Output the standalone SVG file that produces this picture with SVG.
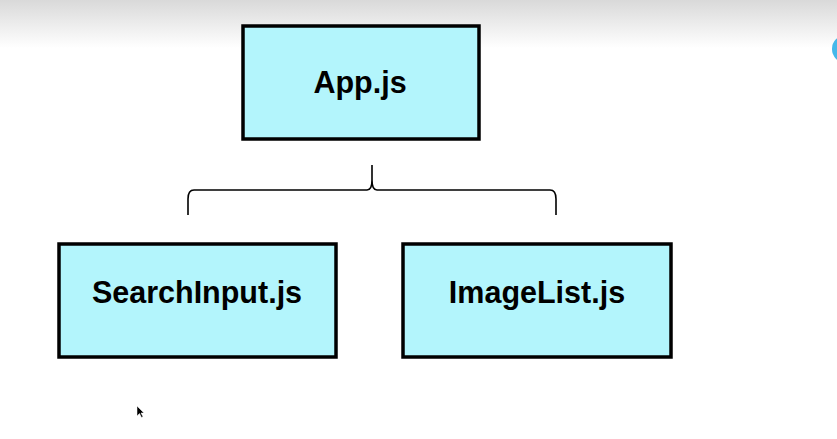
<svg xmlns="http://www.w3.org/2000/svg" width="837" height="439" viewBox="0 0 837 439">
<defs>
<linearGradient id="topShade" x1="0" y1="0" x2="0" y2="1">
<stop offset="0" stop-color="#d9d9d9"/>
<stop offset="1" stop-color="#ffffff"/>
</linearGradient>
<style>
.box{fill:#b3f5fc;stroke:#000;stroke-width:3.5}
.lbl{font-family:"Liberation Sans",Arial,sans-serif;font-weight:bold;font-size:30.5px;fill:#000;text-anchor:middle}
.brace{fill:none;stroke:#000;stroke-width:1.6}
</style>
</defs>
<rect x="0" y="0" width="837" height="439" fill="#ffffff"/>
<rect x="0" y="0" width="837" height="48" fill="url(#topShade)"/>
<circle cx="846" cy="49" r="14" fill="#45b8ea"/>
<g id="node-app">
<rect class="box" x="243" y="26" width="236" height="113"/>
<text class="lbl" x="360" y="93">App.js</text>
</g>
<g id="node-searchinput">
<rect class="box" x="59" y="244" width="277" height="113"/>
<text class="lbl" x="197" y="303">SearchInput.js</text>
</g>
<g id="node-imagelist">
<rect class="box" x="403" y="244" width="268" height="113"/>
<text class="lbl" x="537" y="303">ImageList.js</text>
</g>
<g id="connectors">
<path class="brace" d="M188,215 L188,199 Q188,190 194,190 L367,190 Q372,190 372,180 L372,165 M372,180 Q372,190 377,190 L550,190 Q556,190 556,199 L556,215"/>
</g>
<polygon points="137,406 137,416 139.5,413.5 141.5,417.5 143,416.8 141,413 144,413" fill="#000" stroke="#fff" stroke-width="0.5"/>
</svg>
